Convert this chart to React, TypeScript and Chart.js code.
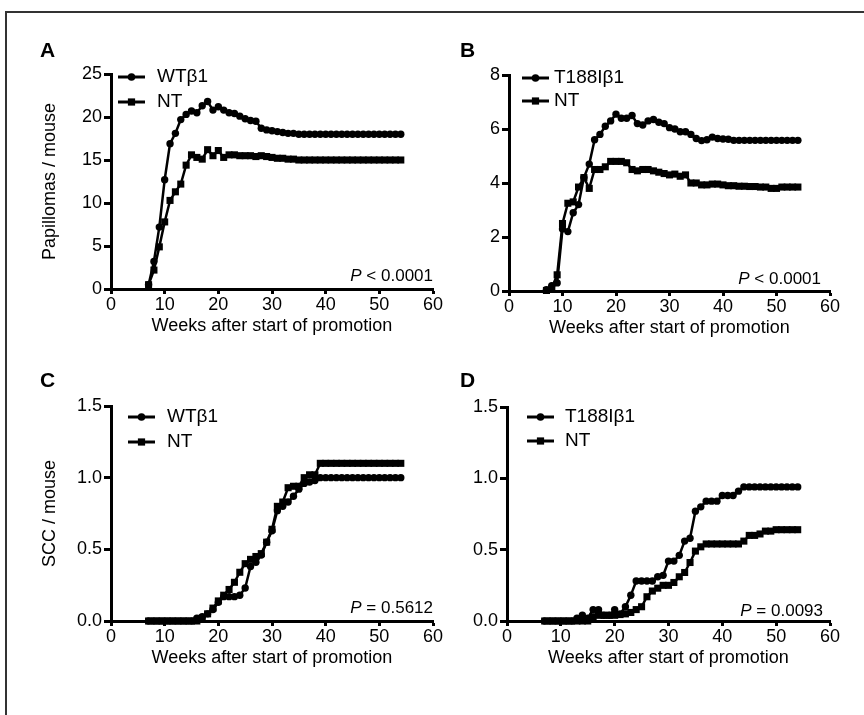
import React, { useEffect, useRef } from "react";
import { Chart, registerables } from "chart.js";

Chart.register(...registerables);

const FONT = "'Liberation Sans', Arial, Helvetica, sans-serif";

// Weeks after start of promotion (x values shared by all series)
const weeks = [7, 8, 9, 10, 11, 12, 13, 14, 15, 16, 17, 18, 19, 20, 21, 22, 23, 24, 25, 26, 27, 28, 29, 30,
  31, 32, 33, 34, 35, 36, 37, 38, 39, 40, 41, 42, 43, 44, 45, 46, 47, 48, 49, 50, 51, 52, 53, 54];

// Panel A: Papillomas / mouse
const papWT = [0.5, 3.2, 7.2, 12.7, 16.9, 18.1, 19.7, 20.3, 20.7, 20.5, 21.3, 21.8, 20.8, 21.2, 20.8, 20.5,
  20.4, 20.1, 19.8, 19.6, 19.5, 18.7, 18.5, 18.4, 18.3, 18.2, 18.1, 18.1, 18.0, 18.0, 18.0, 18.0, 18.0, 18.0,
  18.0, 18.0, 18.0, 18.0, 18.0, 18.0, 18.0, 18.0, 18.0, 18.0, 18.0, 18.0, 18.0, 18.0];
const papNT_A = [0.5, 2.2, 4.9, 7.8, 10.3, 11.3, 12.2, 14.4, 15.6, 15.3, 15.1, 16.2, 15.5, 16.1, 15.3, 15.6,
  15.6, 15.5, 15.5, 15.5, 15.4, 15.5, 15.4, 15.3, 15.2, 15.2, 15.1, 15.1, 15.0, 15.0, 15.0, 15.0, 15.0, 15.0,
  15.0, 15.0, 15.0, 15.0, 15.0, 15.0, 15.0, 15.0, 15.0, 15.0, 15.0, 15.0, 15.0, 15.0];

// Panel B: Papillomas / mouse
const papT188I = [0.05, 0.2, 0.3, 2.3, 2.2, 2.9, 3.2, 4.2, 4.7, 5.6, 5.8, 6.1, 6.3, 6.55, 6.4, 6.4, 6.5, 6.2,
  6.15, 6.3, 6.35, 6.25, 6.2, 6.05, 6.0, 5.9, 5.9, 5.8, 5.65, 5.57, 5.6, 5.7, 5.65, 5.63, 5.62, 5.58, 5.58,
  5.58, 5.58, 5.58, 5.58, 5.58, 5.58, 5.58, 5.58, 5.58, 5.58, 5.58];
const papNT_B = [0.02, 0.1, 0.6, 2.5, 3.25, 3.3, 3.85, 4.2, 3.8, 4.5, 4.5, 4.6, 4.8, 4.8, 4.8, 4.75, 4.5, 4.45,
  4.5, 4.5, 4.45, 4.4, 4.35, 4.3, 4.33, 4.25, 4.3, 4.0, 4.0, 3.93, 3.93, 3.96, 3.96, 3.93, 3.9, 3.9, 3.88,
  3.88, 3.87, 3.87, 3.85, 3.85, 3.8, 3.8, 3.85, 3.85, 3.85, 3.85];

// Panel C: SCC / mouse
const sccWT = [0, 0, 0, 0, 0, 0, 0, 0, 0, 0.02, 0.03, 0.05, 0.08, 0.13, 0.17, 0.17, 0.17, 0.18, 0.23, 0.38,
  0.41, 0.46, 0.55, 0.63, 0.77, 0.8, 0.83, 0.87, 0.92, 0.96, 0.97, 0.98, 1.0, 1.0, 1.0, 1.0, 1.0, 1.0, 1.0,
  1.0, 1.0, 1.0, 1.0, 1.0, 1.0, 1.0, 1.0, 1.0];
const sccNT_C = [0, 0, 0, 0, 0, 0, 0, 0, 0, 0, 0.02, 0.05, 0.09, 0.14, 0.18, 0.22, 0.27, 0.34, 0.4, 0.43,
  0.45, 0.47, 0.55, 0.64, 0.8, 0.83, 0.93, 0.94, 0.94, 1.0, 1.02, 1.02, 1.1, 1.1, 1.1, 1.1, 1.1, 1.1, 1.1,
  1.1, 1.1, 1.1, 1.1, 1.1, 1.1, 1.1, 1.1, 1.1];

// Panel D: SCC / mouse
const sccT188I = [0, 0, 0, 0, 0, 0, 0.02, 0.04, 0.02, 0.08, 0.08, 0.04, 0.04, 0.08, 0.05, 0.1, 0.18, 0.28,
  0.28, 0.28, 0.28, 0.31, 0.32, 0.42, 0.42, 0.46, 0.56, 0.58, 0.77, 0.8, 0.84, 0.84, 0.84, 0.88, 0.88, 0.88,
  0.91, 0.94, 0.94, 0.94, 0.94, 0.94, 0.94, 0.94, 0.94, 0.94, 0.94, 0.94];
const sccNT_D = [0, 0, 0, 0, 0, 0, 0, 0, 0, 0.03, 0.04, 0.04, 0.04, 0.04, 0.045, 0.05, 0.06, 0.08, 0.1, 0.17,
  0.21, 0.23, 0.25, 0.25, 0.27, 0.31, 0.34, 0.41, 0.49, 0.52, 0.54, 0.54, 0.54, 0.54, 0.54, 0.54, 0.54, 0.56,
  0.6, 0.6, 0.61, 0.63, 0.63, 0.64, 0.64, 0.64, 0.64, 0.64];

const xTicksMax = 60;
const xStep = 10;
const xTitle = "Weeks after start of promotion";

type Series = { label: string; values: number[]; style: "circle" | "rect" };
type Panel = {
  key: string;
  canvas: { left: number; top: number; width: number; height: number };
  area: { L: number; T: number; R: number; B: number };
  yMax: number;
  yStep: number;
  decimals: number;
  yTitle: string | null;
  series: Series[];
  letter: { x: number; y: number };
  legend: { x: number; y: number; gap: number; textX: number };
  pText: string;
  pPos: { x: number; y: number };
};

const FS = 18;
const LH = FS * 1.2;
const X_TITLE_OFFSET = 37; // center of x title below axis
const EXTRA = Math.ceil(LH / 2) + 1;

const panels: Panel[] = [
  {
    key: "A",
    canvas: { left: 0, top: 30, width: 450, height: 289 + X_TITLE_OFFSET + EXTRA - 30 },
    area: { L: 111, T: 74, R: 433, B: 289 },
    yMax: 25, yStep: 5, decimals: 0,
    yTitle: "Papillomas / mouse",
    series: [
      { label: "WTβ1", values: papWT, style: "circle" },
      { label: "NT", values: papNT_A, style: "rect" },
    ],
    letter: { x: 40, y: 51 },
    legend: { x: 118, y: 77, gap: 25, textX: 157 },
    pText: " < 0.0001",
    pPos: { x: 433, y: 281 },
  },
  {
    key: "B",
    canvas: { left: 450, top: 30, width: 414, height: 291 + X_TITLE_OFFSET + EXTRA - 30 },
    area: { L: 509, T: 75, R: 830, B: 291 },
    yMax: 8, yStep: 2, decimals: 0,
    yTitle: null,
    series: [
      { label: "T188Iβ1", values: papT188I, style: "circle" },
      { label: "NT", values: papNT_B, style: "rect" },
    ],
    letter: { x: 460, y: 51 },
    legend: { x: 522, y: 78, gap: 23, textX: 554 },
    pText: " < 0.0001",
    pPos: { x: 821, y: 284 },
  },
  {
    key: "C",
    canvas: { left: 0, top: 360, width: 450, height: 621 + X_TITLE_OFFSET + EXTRA - 360 },
    area: { L: 111, T: 406, R: 433, B: 621 },
    yMax: 1.5, yStep: 0.5, decimals: 1,
    yTitle: "SCC / mouse",
    series: [
      { label: "WTβ1", values: sccWT, style: "circle" },
      { label: "NT", values: sccNT_C, style: "rect" },
    ],
    letter: { x: 40, y: 381 },
    legend: { x: 128, y: 417, gap: 25, textX: 167 },
    pText: " = 0.5612",
    pPos: { x: 433, y: 613 },
  },
  {
    key: "D",
    canvas: { left: 450, top: 360, width: 414, height: 621 + X_TITLE_OFFSET + EXTRA - 360 },
    area: { L: 507, T: 407, R: 830, B: 621 },
    yMax: 1.5, yStep: 0.5, decimals: 1,
    yTitle: null,
    series: [
      { label: "T188Iβ1", values: sccT188I, style: "circle" },
      { label: "NT", values: sccNT_D, style: "rect" },
    ],
    letter: { x: 460, y: 381 },
    legend: { x: 527, y: 417, gap: 24, textX: 565 },
    pText: " = 0.0093",
    pPos: { x: 823, y: 616 },
  },
];

function decorPlugin(p: Panel) {
  return {
    id: "decor" + p.key,
    afterDraw(chart: any) {
      const ctx = chart.ctx as CanvasRenderingContext2D;
      const ox = p.canvas.left;
      const oy = p.canvas.top;
      ctx.save();
      ctx.fillStyle = "#000";
      ctx.strokeStyle = "#000";
      // panel letter
      ctx.font = `bold 21px ${FONT}`;
      ctx.textAlign = "left";
      ctx.textBaseline = "middle";
      ctx.fillText(p.key, p.letter.x - ox, p.letter.y - oy);
      // legend
      p.series.forEach((s, i) => {
        const y = p.legend.y + i * p.legend.gap - oy;
        const x0 = p.legend.x - ox;
        const x1 = x0 + 27;
        ctx.lineWidth = 3;
        ctx.beginPath();
        ctx.moveTo(x0, y);
        ctx.lineTo(x1, y);
        ctx.stroke();
        const cx = (x0 + x1) / 2;
        if (s.style === "circle") {
          ctx.beginPath();
          ctx.arc(cx, y, 3.8, 0, Math.PI * 2);
          ctx.fill();
        } else {
          ctx.fillRect(cx - 3.6, y - 3.6, 7.2, 7.2);
        }
        ctx.font = `19px ${FONT}`;
        ctx.textBaseline = "middle";
        ctx.fillText(s.label, p.legend.textX - ox, y);
      });
      // P value
      ctx.textBaseline = "alphabetic";
      ctx.font = `17px ${FONT}`;
      const restW = ctx.measureText(p.pText).width;
      ctx.font = `italic 17px ${FONT}`;
      const pW = ctx.measureText("P").width;
      const xr = p.pPos.x - ox;
      const yb = p.pPos.y - oy;
      ctx.fillText("P", xr - restW - pW, yb);
      ctx.font = `17px ${FONT}`;
      ctx.fillText(p.pText, xr - restW, yb);
      ctx.restore();
    },
  };
}

function buildConfig(p: Panel): any {
  const cv = p.canvas;
  const a = p.area;
  const yAxisWidth = a.L - cv.left;
  const xAxisHeight = cv.top + cv.height - a.B;
  const titleBottomPad = xAxisHeight - X_TITLE_OFFSET - LH / 2;
  const yTitleCenter = 50 - cv.left;
  return {
    type: "line",
    data: {
      datasets: p.series.map((s) => ({
        label: s.label,
        data: weeks.map((w, i) => ({ x: w, y: s.values[i] })),
        borderColor: "#000",
        backgroundColor: "#000",
        borderWidth: 2.5,
        pointStyle: s.style,
        pointRadius: s.style === "circle" ? 3.7 : 5,
        pointBorderWidth: 0,
        pointBackgroundColor: "#000",
        pointBorderColor: "#000",
        tension: 0,
        clip: false,
      })),
    },
    options: {
      responsive: false,
      animation: false,
      events: [],
      layout: {
        padding: { left: 0, top: a.T - cv.top, right: cv.left + cv.width - a.R, bottom: 0 },
      },
      plugins: { legend: { display: false }, tooltip: { enabled: false }, title: { display: false } },
      scales: {
        x: {
          type: "linear",
          min: 0,
          max: xTicksMax,
          afterFit: (s: any) => {
            s.height = xAxisHeight;
          },
          ticks: {
            stepSize: xStep,
            padding: 0,
            color: "#000",
            maxRotation: 0,
            autoSkip: false,
            font: { size: FS, family: FONT },
          },
          grid: {
            display: true,
            drawOnChartArea: false,
            drawTicks: true,
            tickLength: 5,
            tickWidth: 3,
            tickColor: "#000",
          },
          border: { display: true, width: 3, color: "#000" },
          title: {
            display: true,
            text: xTitle,
            color: "#000",
            font: { size: FS, family: FONT },
            padding: { top: 0, bottom: titleBottomPad },
          },
        },
        y: {
          type: "linear",
          min: 0,
          max: p.yMax,
          afterFit: (s: any) => {
            s.width = yAxisWidth;
          },
          ticks: {
            stepSize: p.yStep,
            padding: 2,
            color: "#000",
            font: { size: FS, family: FONT },
            callback: (v: any) => Number(v).toFixed(p.decimals),
          },
          grid: {
            display: true,
            drawOnChartArea: false,
            drawTicks: true,
            tickLength: 7,
            tickWidth: 3,
            tickColor: "#000",
          },
          border: { display: true, width: 3, color: "#000" },
          title: p.yTitle
            ? {
                display: true,
                text: p.yTitle,
                color: "#000",
                font: { size: FS, family: FONT },
                padding: { top: yTitleCenter - LH / 2, bottom: 0 },
              }
            : { display: false },
        },
      },
    },
    plugins: [decorPlugin(p)],
  };
}

function PanelChart({ p }: { p: Panel }) {
  const ref = useRef<HTMLCanvasElement | null>(null);
  useEffect(() => {
    if (!ref.current) return;
    const chart = new Chart(ref.current, buildConfig(p));
    return () => chart.destroy();
  }, [p]);
  return (
    <canvas
      ref={ref}
      width={p.canvas.width}
      height={p.canvas.height}
      style={{
        position: "absolute",
        left: p.canvas.left,
        top: p.canvas.top,
        width: p.canvas.width,
        height: p.canvas.height,
      }}
    />
  );
}

export default function App() {
  return (
    <div
      style={{
        position: "absolute",
        left: 0,
        top: 0,
        width: 864,
        height: 715,
        background: "#fff",
        overflow: "hidden",
        fontFamily: FONT,
      }}
    >
      <div
        style={{
          position: "absolute",
          left: 5,
          top: 11,
          width: 900,
          height: 720,
          borderTop: "2px solid #333",
          borderLeft: "2px solid #333",
        }}
      />
      {panels.map((p) => (
        <PanelChart key={p.key} p={p} />
      ))}
    </div>
  );
}
